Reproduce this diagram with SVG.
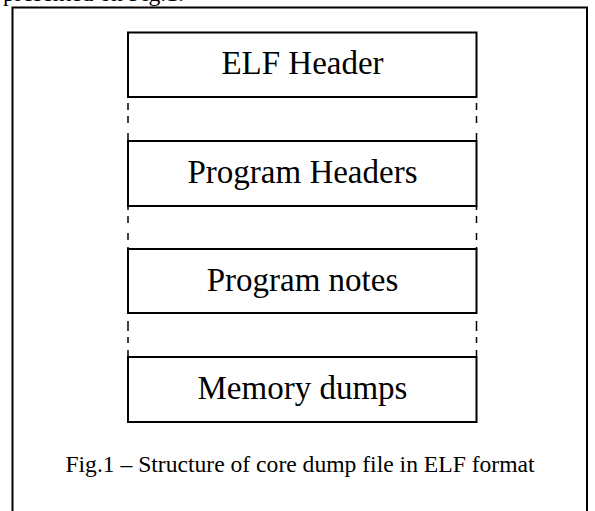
<svg xmlns="http://www.w3.org/2000/svg" width="595" height="511" viewBox="0 0 595 511">
  <style>
    .frame { fill: none; stroke: #000; stroke-width: 2; }
    .box { fill: #fff; stroke: #000; stroke-width: 2; }
    .label { font-family: "Liberation Serif", "Times New Roman", serif; font-size: 33px; fill: #000; text-anchor: middle; }
    .body { font-family: "Liberation Serif", "Times New Roman", serif; font-size: 23.6px; fill: #000; }
    .link { fill: none; stroke: #000; stroke-width: 1.5; }
  </style>
  <rect width="595" height="511" fill="#fff"/>

  <!-- running text cut by the page top -->
  <text class="body" x="3" y="1">presented on Fig.1.</text>

  <!-- figure frame (bottom edge runs off the page) -->
  <path class="frame" d="M12.5 520 V7.5 H587 V520"/>

  <!-- dashed connectors between the sections -->
  <g id="connectors">
    <path class="link" d="M128 103 V110 M128 116 V123 M128 133 V141"/>
    <path class="link" d="M476.5 103 V110 M476.5 116 V123 M476.5 133 V141"/>
    <path class="link" d="M128 206 V210 M128 216 V223 M128 233 V240 M128 247 V249"/>
    <path class="link" d="M476.5 206 V210 M476.5 216 V223 M476.5 233 V240 M476.5 247 V249"/>
    <path class="link" d="M128 321 V331 M128 337 V343 M128 350 V357"/>
    <path class="link" d="M476.5 321 V331 M476.5 337 V343 M476.5 350 V357"/>
  </g>

  <g id="elf-header">
    <rect class="box" x="128" y="32.5" width="348.5" height="64.5"/>
    <text class="label" x="302.5" y="73.5">ELF Header</text>
  </g>
  <g id="program-headers">
    <rect class="box" x="128" y="141" width="348.5" height="65"/>
    <text class="label" x="302.5" y="183">Program Headers</text>
  </g>
  <g id="program-notes">
    <rect class="box" x="128" y="249" width="348.5" height="64"/>
    <text class="label" x="302.5" y="291">Program notes</text>
  </g>
  <g id="memory-dumps">
    <rect class="box" x="128" y="357" width="348.5" height="65"/>
    <text class="label" x="302.5" y="399">Memory dumps</text>
  </g>

  <text class="body" x="300" y="471.5" text-anchor="middle">Fig.1 – Structure of core dump file in ELF format</text>
</svg>
